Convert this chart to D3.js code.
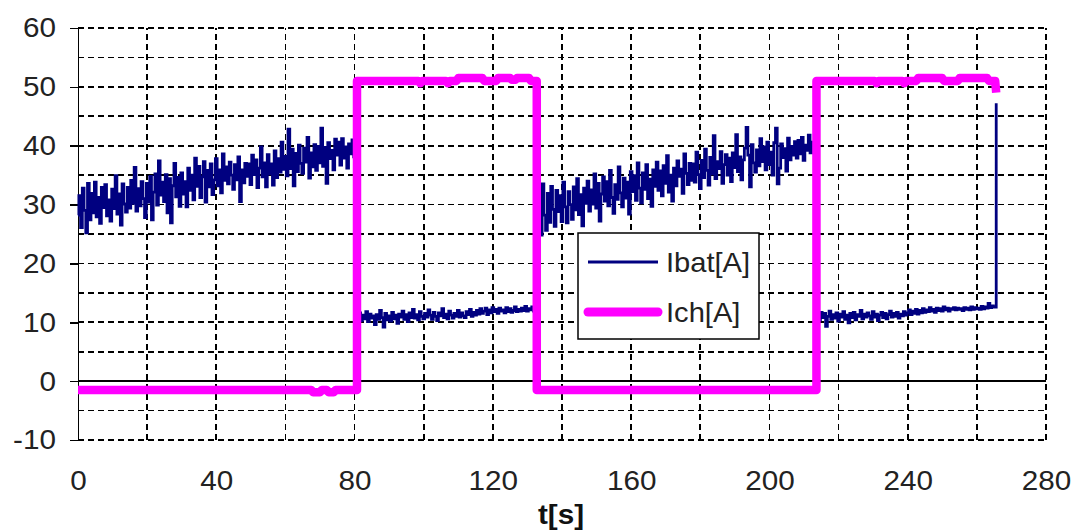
<!DOCTYPE html>
<html>
<head>
<meta charset="utf-8">
<script src="https://cdn.jsdelivr.net/npm/d3@7"></script>
<style>
  html, body { margin: 0; padding: 0; background: #fff; }
  svg { display: block; font-family: "Liberation Sans", Arial, sans-serif; }
</style>
</head>
<body>
<svg id="chart" width="1071" height="532"></svg>
<script>
// ---------- data ----------
const xTicks = [0, 40, 80, 120, 160, 200, 240, 280];
const xGrid = [20, 40, 60, 80, 100, 120, 140, 160, 180, 200, 220, 240, 260, 280];
const yTicks = [-10, 0, 10, 20, 30, 40, 50, 60];
const yGrid = [-10, -5, 5, 10, 15, 20, 25, 30, 35, 40, 45, 50, 55, 60];
const seriesNames = ["Ibat[A]", "Ich[A]"];

// Ibat sampled every 0.5 s, four segments (start times below)
const sampleStep = 0.5;
const ibatStarts = [0, 81, 133, 214];
const ibat1 = [
  28.2, 31.5, 26.1, 32.8, 29.0, 25.2, 33.6, 27.4, 31.9, 28.6,
  33.8, 27.9, 31.2, 26.8, 32.9, 29.5, 33.4, 28.1, 30.8, 27.2,
  32.6, 29.3, 34.9, 28.4, 31.8, 26.5, 33.5, 30.1, 28.7, 32.9,
  29.4, 34.1, 30.2, 36.3, 28.9, 32.7, 29.8, 33.9, 31.0, 27.8,
  33.6, 30.4, 34.8, 27.4, 32.1, 35.2, 29.9, 37.4, 31.6, 33.8,
  30.5, 35.1, 28.6, 34.4, 26.9, 33.2, 37.0, 31.3, 34.6, 29.7,
  35.4, 31.8, 33.9, 29.6, 36.2, 32.4, 35.0, 30.8, 37.9, 33.1,
  36.5, 31.2, 34.7, 37.3, 30.4, 35.8, 33.0, 36.9, 31.7, 34.2,
  37.8, 33.2, 35.9, 32.0, 38.6, 34.1, 36.4, 33.5, 37.2, 35.0,
  32.6, 36.8, 34.2, 38.1, 30.5, 35.9, 33.7, 37.0, 34.8, 36.9,
  33.4, 38.4, 35.1, 37.6, 32.9, 36.2, 39.8, 34.7, 37.1, 33.0,
  38.5, 35.2, 36.9, 33.3, 39.1, 34.6, 37.8, 35.5, 40.6, 36.0,
  38.2, 34.9, 42.8, 36.1, 39.4, 33.2, 38.7, 35.6, 40.1, 37.0,
  35.3, 39.6, 37.2, 41.4, 34.5, 38.8, 36.4, 40.2, 35.8, 39.9,
  37.1, 43.0, 36.5, 39.7, 33.6, 40.5, 37.8, 39.2, 35.9, 41.1,
  38.4, 40.6, 36.7, 41.2, 37.9, 39.8, 36.2, 40.3, 38.6, 41.0,
  38.1, 40.2
];
const ibat2 = [
  10.9, 11.6, 10.3, 11.2, 10.6, 11.8, 10.1, 11.4, 10.7, 11.1,
  9.6, 11.3, 10.5, 12.0, 10.8, 9.2, 11.5, 10.4, 11.1, 10.2,
  11.7, 10.6, 11.2, 9.8, 11.4, 10.9, 11.9, 10.5, 11.3, 10.1,
  11.6, 10.8, 12.2, 10.7, 11.3, 10.4, 11.8, 11.0, 10.6, 11.5,
  10.9, 12.1, 11.2, 10.5, 11.7, 11.0, 10.3, 11.6, 11.1, 12.3,
  10.8, 11.4, 10.6, 11.9, 11.2, 10.7, 11.5, 11.0, 12.0, 10.9,
  11.6, 11.1, 10.8, 11.8, 11.3, 12.2, 11.0, 11.7, 11.2, 12.0,
  11.4, 12.3, 11.5, 11.9, 12.4, 11.3, 12.1, 11.6, 12.5, 11.8,
  12.2, 11.5, 12.4, 11.9, 12.1, 11.6, 12.5, 11.8, 12.3, 11.7,
  12.0, 12.6, 11.8, 12.2, 11.9, 12.4, 12.0, 12.7, 11.9, 12.3,
  12.1, 12.6, 11.9, 12.4
];
const ibat3 = [
  27.4, 32.6, 24.8, 33.5, 28.2, 25.6, 31.9, 27.0, 33.1, 29.2,
  26.3, 32.4, 28.8, 31.5, 27.1, 33.8, 29.6, 26.9, 32.2, 30.0,
  27.5, 33.0, 29.1, 34.4, 28.3, 31.7, 26.4, 32.8, 30.2, 34.0,
  28.9, 32.5, 30.1, 35.2, 29.4, 33.6, 27.2, 31.8, 34.7, 30.6,
  33.9, 29.8, 35.8, 31.2, 28.5, 33.4, 30.9, 36.4, 32.0, 29.6,
  34.5, 31.1, 33.8, 28.4, 35.6, 32.2, 34.9, 30.7, 37.1, 32.8,
  30.3, 35.4, 32.6, 36.8, 31.0, 34.3, 29.7, 35.9, 33.1, 37.2,
  32.4, 35.7, 31.5, 36.6, 33.6, 38.3, 32.1, 35.0, 30.6, 36.2,
  33.2, 37.4, 34.8, 36.0, 31.9, 38.6, 35.3, 33.4, 37.0, 34.1,
  36.9, 33.8, 38.9, 35.1, 32.7, 37.5, 34.6, 39.4, 35.8, 33.3,
  38.0, 35.2, 41.7, 34.4, 37.3, 36.1, 39.0, 33.6, 36.8, 38.5,
  35.0, 37.9, 33.9, 38.8, 36.3, 41.9, 35.6, 38.1, 34.2, 37.6,
  39.6, 43.1, 38.4, 33.0, 40.2, 37.1, 35.5, 39.3, 36.6, 41.2,
  37.3, 39.8, 35.9, 40.6, 36.8, 38.9, 35.0, 40.5, 43.0, 33.5,
  36.2, 40.3, 38.0, 39.5, 35.7, 41.3, 37.6, 39.9, 38.4, 40.7,
  37.9, 40.9, 38.6, 41.4, 37.5, 40.1, 39.2, 41.8, 38.8, 40.6,
  39.6
];
const ibat4 = [
  11.2, 10.4, 11.7, 10.8, 11.5, 9.3, 11.0, 11.9, 10.5, 11.3,
  10.7, 11.6, 10.2, 11.4, 10.9, 11.8, 10.5, 11.2, 9.9, 11.5,
  10.8, 11.7, 10.4, 11.3, 11.0, 12.0, 10.6, 11.4, 10.9, 11.6,
  11.1, 10.5, 11.8, 10.9, 11.4, 10.3, 11.2, 11.7, 10.8, 11.5,
  10.6, 11.3, 11.9, 10.9, 11.5, 11.0, 11.7, 10.7, 11.4, 11.1,
  11.8, 11.2, 11.6, 12.1, 11.3, 11.9, 11.5, 12.2, 11.4, 12.0,
  11.6, 12.3, 11.7, 12.1, 11.8, 12.5, 11.9, 12.2, 11.7, 12.4,
  12.0, 12.3, 11.9, 12.6, 12.1, 12.4, 11.9, 12.3, 12.2, 12.5,
  12.1, 12.4, 12.2, 12.3, 12.0, 12.5, 12.2, 12.4, 12.1, 12.6,
  12.2, 12.5, 12.3, 12.4, 12.2, 12.7, 12.3, 12.6, 12.4, 13.2,
  12.5, 12.8, 12.6
];
const ibatTailT = [265.6, 265.6];
const ibatTailV = [12.6, 47.2];

// Ich (charger current) breakpoints
const ichT = [0, 67.5, 68, 70, 70.5, 72, 72.5, 74, 74.5, 80.7,
  80.7, 98.5, 99, 99.5, 106.5, 107, 107.5, 109.5, 110, 117,
  117.5, 121, 121.5, 125, 125.5, 126.5, 127, 130.5, 131, 132.7,
  132.7, 213.6, 213.6, 230.5, 231, 231.5, 238.5, 239, 239.5, 242.5,
  243, 250, 250.5, 254.5, 255, 263, 263.5, 265.3, 265.6];
const ichV = [-1.5, -1.5, -1.9, -1.9, -1.5, -1.5, -1.9, -1.9, -1.5, -1.5,
  51, 51, 50.6, 51, 51, 50.6, 51, 51, 51.5, 51.5,
  51, 51, 51.5, 51.5, 51.2, 51.2, 51.5, 51.5, 51, 51,
  -1.5, -1.5, 51, 51, 50.6, 51, 51, 50.6, 51, 51,
  51.5, 51.5, 51, 51, 51.5, 51.5, 51, 51, 49];

// ---------- build ----------
const ibatSegs = [ibat1, ibat2, ibat3, ibat4];
const ibatPts = [];
ibatSegs.forEach((seg, k) => seg.forEach((v, i) => ibatPts.push([ibatStarts[k] + i * sampleStep, v])));
ibatTailT.forEach((t, i) => ibatPts.push([t, ibatTailV[i]]));
const ichPts = ichT.map((t, i) => [t, ichV[i]]);

const svg = d3.select("#chart");
const x = d3.scaleLinear().domain([0, 280]).range([78, 1046]);
const y = d3.scaleLinear().domain([-10, 60]).range([440, 28]);
const FONT = "'Liberation Sans', Arial, sans-serif";
const SX = 1.06; // slight horizontal stretch of the reference lettering

const grid = svg.append("g").attr("shape-rendering", "crispEdges");
grid.selectAll("line.h").data(yGrid).enter().append("line")
  .attr("x1", x(0)).attr("x2", x(280))
  .attr("y1", d => y(d)).attr("y2", d => y(d))
  .attr("stroke", "#000").attr("stroke-width", 1.6).attr("stroke-dasharray", "6,4");
grid.selectAll("line.v").data(xGrid).enter().append("line")
  .attr("x1", d => x(d)).attr("x2", d => x(d))
  .attr("y1", y(-10)).attr("y2", y(60))
  .attr("stroke", "#000").attr("stroke-width", 1.6).attr("stroke-dasharray", "6,4");

// zero line
svg.append("line").attr("x1", x(0)).attr("x2", x(280)).attr("y1", y(0)).attr("y2", y(0))
  .attr("stroke", "#000").attr("stroke-width", 1.6).attr("shape-rendering", "crispEdges");

// y axis
const yAxis = d3.axisLeft(y).tickValues(yTicks).tickSize(8).tickPadding(14).tickFormat(d => String(d));
const yg = svg.append("g").attr("transform", `translate(${x(0)},0)`).call(yAxis);
yg.select(".domain").attr("stroke", "#000").attr("stroke-width", 1.6).attr("shape-rendering", "crispEdges");
yg.selectAll(".tick line").attr("stroke", "#000").attr("stroke-width", 1.6).attr("shape-rendering", "crispEdges");
yg.selectAll(".tick text").attr("font-size", 28).attr("fill", "#222").attr("font-family", FONT)
  .attr("x", -22 / SX).attr("transform", `scale(${SX},1)`);

// x axis labels (bottom)
const xAxis = d3.axisBottom(x).tickValues(xTicks).tickSize(0).tickPadding(30).tickFormat(d => String(d));
const xg = svg.append("g").attr("transform", `translate(0,${y(-10)})`).call(xAxis);
xg.select(".domain").remove();
xg.selectAll(".tick text").attr("font-size", 28).attr("fill", "#222").attr("font-family", FONT)
  .attr("transform", `scale(${SX},1)`);

svg.append("text").attr("transform", `translate(561,524) scale(1.1,1)`).attr("text-anchor", "middle")
  .attr("font-size", 27).attr("font-weight", "bold").attr("fill", "#111").attr("font-family", FONT).text("t[s]");

// series
const line = d3.line().x(d => x(d[0])).y(d => y(d[1])).curve(d3.curveStep);
svg.append("path").datum(ibatPts).attr("d", line)
  .attr("fill", "none").attr("stroke", "#000080").attr("stroke-width", 2.8)
  .attr("stroke-linejoin", "miter");
const line2 = d3.line().x(d => x(d[0])).y(d => y(d[1]));
svg.append("path").datum(ichPts).attr("d", line2)
  .attr("fill", "none").attr("stroke", "#ff00ff").attr("stroke-width", 8.5)
  .attr("stroke-linejoin", "round");

// legend
const lg = svg.append("g");
lg.append("rect").attr("x", 578).attr("y", 233).attr("width", 181).attr("height", 106)
  .attr("fill", "#fff").attr("stroke", "#000").attr("stroke-width", 1.5);
const legColors = ["#000080", "#ff00ff"];
const legWidths = [3, 9];
const legCaps = ["butt", "round"];
seriesNames.forEach((n, i) => {
  const yy = 262 + i * 50;
  lg.append("line").attr("x1", 588).attr("x2", 658).attr("y1", yy).attr("y2", yy)
    .attr("stroke", legColors[i]).attr("stroke-width", legWidths[i]).attr("stroke-linecap", legCaps[i]);
  lg.append("text").attr("transform", `translate(666,${yy}) scale(1.04,1)`).attr("dy", "0.36em")
    .attr("font-size", 28).attr("fill", "#222").attr("font-family", FONT).text(n);
});
</script>
</body>
</html>
